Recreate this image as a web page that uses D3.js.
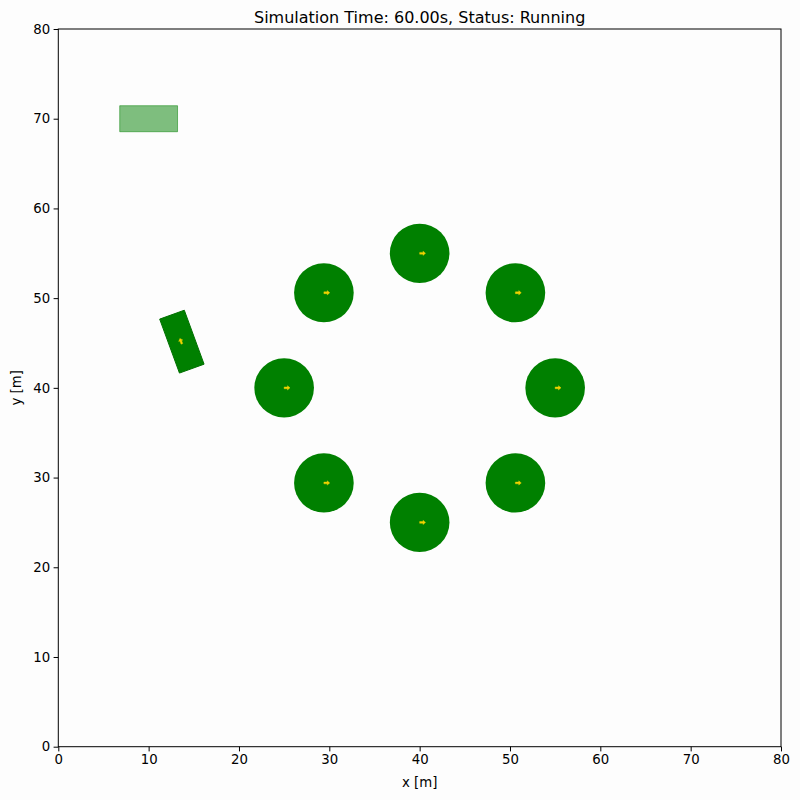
<!DOCTYPE html>
<html>
<head>
<meta charset="utf-8">
<script src="https://cdn.jsdelivr.net/npm/d3@7"></script>
<style>
  body { margin: 0; background: #fdfdfd; }
  text { font-family: "DejaVu Sans", sans-serif; fill: #000; }
</style>
</head>
<body>
<script>
// Obstacles (circles) on a ring
var obstacleX = [40, 50.6, 55, 50.6, 40, 29.4, 25, 29.4];
var obstacleY = [55, 50.6, 40, 29.4, 25, 29.4, 40, 50.6];
var obstacleR = [3.3, 3.3, 3.3, 3.3, 3.3, 3.3, 3.3, 3.3];
var obstacleHeading = [0, 0, 0, 0, 0, 0, 0, 0];

// Parking spot
var parkX = [10];
var parkY = [70];
var parkLen = [6.4];
var parkWid = [2.9];

// Vehicle
var vehX = [13.68];
var vehY = [45.15];
var vehLen = [6.4];
var vehWid = [2.9];
var vehHeading = [110]; // degrees

var xTicks = [0, 10, 20, 30, 40, 50, 60, 70, 80];
var yTicks = [0, 10, 20, 30, 40, 50, 60, 70, 80];
var titleText = "Simulation Time: 60.00s, Status: Running";

var width = 800, height = 800;
var margin = {top: 29, right: 19, bottom: 53.3, left: 58.3};

var svg = d3.select("body").append("svg")
  .attr("width", width)
  .attr("height", height);

svg.append("rect").attr("width", width).attr("height", height).attr("fill", "#fdfdfd");

var x = d3.scaleLinear().domain([0, 80]).range([margin.left, width - margin.right]);
var y = d3.scaleLinear().domain([0, 80]).range([height - margin.bottom, margin.top]);

var plot = svg.append("g");

// helper: rotated rectangle corners -> path
function rectPath(cx, cy, len, wid, deg) {
  var a = deg * Math.PI / 180;
  var c = Math.cos(a), s = Math.sin(a);
  var pts = [[len/2, wid/2], [-len/2, wid/2], [-len/2, -wid/2], [len/2, -wid/2]].map(function(p) {
    return [x(cx + p[0]*c - p[1]*s), y(cy + p[0]*s + p[1]*c)];
  });
  return "M" + pts.join("L") + "Z";
}

// small heading arrow
function arrowPath(cx, cy, deg) {
  var a = deg * Math.PI / 180;
  var c = Math.cos(a), s = Math.sin(a);
  var L = 0.65, hl = 0.28, hw = 0.24, sw = 0.1;
  var pts = [[0, sw], [L - hl, sw], [L - hl, hw], [L, 0], [L - hl, -hw], [L - hl, -sw], [0, -sw]].map(function(p) {
    return [x(cx + p[0]*c - p[1]*s), y(cy + p[0]*s + p[1]*c)];
  });
  return "M" + pts.join("L") + "Z";
}

// parking spot
plot.selectAll(".park")
  .data(parkX)
  .enter()
  .append("path")
  .attr("class", "park")
  .attr("d", function(d, i) { return rectPath(parkX[i], parkY[i], parkLen[i], parkWid[i], 0); })
  .attr("fill", "rgba(0,128,0,0.5)")
  .attr("stroke", "rgba(0,128,0,0.5)")
  .attr("stroke-width", 1);

// obstacles
plot.selectAll(".obs")
  .data(obstacleX)
  .enter()
  .append("ellipse")
  .attr("class", "obs")
  .attr("cx", function(d, i) { return x(obstacleX[i]); })
  .attr("cy", function(d, i) { return y(obstacleY[i]); })
  .attr("rx", function(d, i) { return x(obstacleR[i]) - x(0); })
  .attr("ry", function(d, i) { return y(0) - y(obstacleR[i]); })
  .attr("fill", "#008000");

plot.selectAll(".obsArrow")
  .data(obstacleX)
  .enter()
  .append("path")
  .attr("class", "obsArrow")
  .attr("d", function(d, i) { return arrowPath(obstacleX[i], obstacleY[i], obstacleHeading[i]); })
  .attr("fill", "#f2d200")
  .attr("stroke", "#f2d200")
  .attr("stroke-width", 0.4);

// vehicle
plot.selectAll(".veh")
  .data(vehX)
  .enter()
  .append("path")
  .attr("class", "veh")
  .attr("d", function(d, i) { return rectPath(vehX[i], vehY[i], vehLen[i], vehWid[i], vehHeading[i]); })
  .attr("fill", "#008000")
  .attr("stroke", "#007000")
  .attr("stroke-width", 1);

plot.selectAll(".vehArrow")
  .data(vehX)
  .enter()
  .append("path")
  .attr("class", "vehArrow")
  .attr("d", function(d, i) { return arrowPath(vehX[i], vehY[i] - 0.25, vehHeading[i]); })
  .attr("fill", "#f2d200")
  .attr("stroke", "#f2d200")
  .attr("stroke-width", 0.4);

// axes
var xAxis = d3.axisBottom(x).tickValues(xTicks).tickSize(4.7).tickPadding(3.5).tickFormat(d3.format("d"));
var yAxis = d3.axisLeft(y).tickValues(yTicks).tickSize(4.7).tickPadding(3.5).tickFormat(d3.format("d"));

var gx = svg.append("g").attr("transform", "translate(0," + (height - margin.bottom) + ")").call(xAxis);
var gy = svg.append("g").attr("transform", "translate(" + margin.left + ",0)").call(yAxis);
[gx, gy].forEach(function(g) {
  g.select(".domain").remove();
  g.selectAll("text").style("font-size", "13.3px").attr("fill", "#000");
  g.selectAll("line").attr("stroke", "#000").attr("stroke-width", 1);
});

// frame
svg.append("rect")
  .attr("x", margin.left)
  .attr("y", margin.top)
  .attr("width", width - margin.left - margin.right)
  .attr("height", height - margin.top - margin.bottom)
  .attr("fill", "none")
  .attr("stroke", "#000")
  .attr("stroke-width", 1);

// labels
svg.append("text")
  .attr("x", (margin.left + width - margin.right) / 2)
  .attr("y", 787)
  .attr("text-anchor", "middle")
  .style("font-size", "13.3px")
  .text("x [m]");

svg.append("text")
  .attr("transform", "translate(21," + ((margin.top + height - margin.bottom) / 2) + ") rotate(-90)")
  .attr("text-anchor", "middle")
  .style("font-size", "13.3px")
  .text("y [m]");

svg.append("text")
  .attr("x", (margin.left + width - margin.right) / 2)
  .attr("y", 23)
  .attr("text-anchor", "middle")
  .style("font-size", "16px")
  .text(titleText);
</script>
</body>
</html>
